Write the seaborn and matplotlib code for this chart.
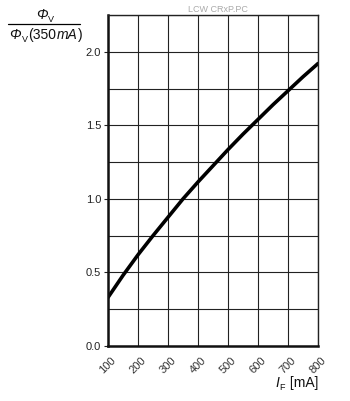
import numpy as np
import pandas as pd
import matplotlib
matplotlib.use("Agg")
import matplotlib.pyplot as plt
import seaborn as sns

current_ma = [100, 150, 200, 250, 300, 350, 400, 450, 500, 550, 600, 650, 700, 750, 800]
rel_flux = [0.33, 0.48, 0.62, 0.75, 0.875, 1.00, 1.115, 1.225, 1.335, 1.44, 1.54, 1.64, 1.735, 1.83, 1.92]
x_ticks = [100, 200, 300, 400, 500, 600, 700, 800]
y_ticks = [0.0, 0.5, 1.0, 1.5, 2.0]

sns.set_theme(style="white")
plt.rcParams['font.family'] = ['Liberation Sans', 'DejaVu Sans']

df = pd.DataFrame({"I": current_ma, "phi": rel_flux})

W, H = 350, 401
fig = plt.figure(figsize=(3.5, 4.01), dpi=100)
ax = fig.add_axes([108/W, 55/H, 210/W, 331/H])
sns.lineplot(data=df, x="I", y="phi", ax=ax, color="black", linewidth=2.6)

ax.set_xlim(100, 800)
ax.set_ylim(0, 2.25)
ax.set_xticks(x_ticks)
ax.set_yticks(y_ticks)
ax.set_yticks(np.arange(0, 2.26, 0.25), minor=True)
ax.grid(True, which="both", color="#222222", linewidth=0.8)
ax.set_xticklabels([str(v) for v in x_ticks], rotation=45, fontsize=8, color="#333333")
ax.set_yticklabels([f"{v:.1f}" for v in y_ticks], fontsize=8, color="#222222")
ax.tick_params(axis="y", which="major", left=True, length=3, width=0.8, color="#222222", pad=2)
ax.tick_params(axis="x", which="major", bottom=False, pad=1)
ax.set_xlabel("")
ax.set_ylabel("")
for side in ["top", "right"]:
    ax.spines[side].set_color("#222222")
    ax.spines[side].set_linewidth(1.0)
for side in ["left", "bottom"]:
    ax.spines[side].set_color("#111111")
    ax.spines[side].set_linewidth(1.8)

renderer = fig.canvas.get_renderer()


def rich(x_px, base_px, pieces, align="center"):
    """pieces: (text, italic, size, sub). x_px: anchor x, base_px: baseline y from top."""
    arts = []
    for txt, ital, size, sub in pieces:
        t = fig.text(0, 0, txt, fontsize=size, fontstyle="italic" if ital else "normal",
                     ha="left", va="baseline", color="#111111")
        arts.append((t, sub))
    widths = [t.get_window_extent(renderer).width for t, _ in arts]
    gap = 0.6
    total = sum(widths) + gap * (len(widths) - 1)
    if align == "center":
        cur = x_px - total / 2
    elif align == "right":
        cur = x_px - total
    else:
        cur = x_px
    for (t, sub), w in zip(arts, widths):
        yb = base_px + (2.5 if sub else 0)
        t.set_position((cur / W, 1 - yb / H))
        cur += w + gap


rich(45, 19, [("Φ", True, 10, False), ("V", False, 6.5, True)])
fig.add_artist(plt.Line2D([8/W, 80/W], [1 - 24/H, 1 - 24/H], color="black", linewidth=0.9))
rich(46, 39, [("Φ", True, 10, False), ("V", False, 6.5, True), ("(350", False, 10, False),
              ("mA", True, 10, False), (")", False, 10, False)])

fig.text(218/W, 1 - 9/H, "LCW CRxP.PC", ha="center", va="center", fontsize=6.5, color="#aaaaaa")

rich(318, 387, [("I", True, 10, False), ("F", False, 6.5, True), (" [mA]", False, 10, False)], align="right")

fig.savefig("out.png", dpi=100)
